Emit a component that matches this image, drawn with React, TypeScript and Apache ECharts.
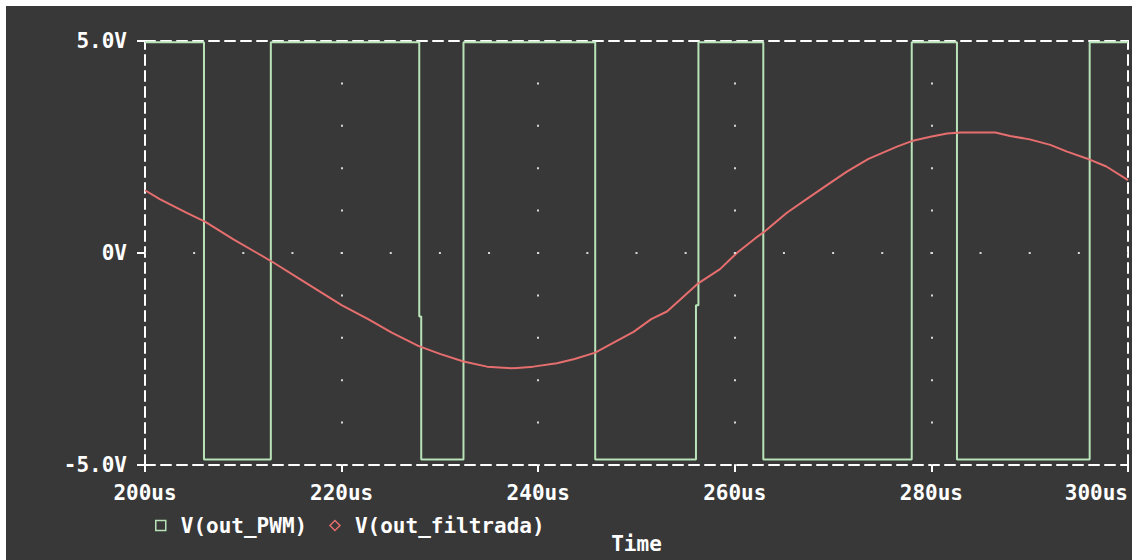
import React, { useEffect, useRef } from "react";
import * as echarts from "echarts";

const timeTicks = [200, 220, 240, 260, 280, 300];
const gridTimes = [220, 240, 260, 280];
const voltTicks = [-5, 0, 5];

const pwmTime = [200, 206.0, 206.0, 212.8, 212.8, 227.9, 227.9, 228.1, 228.1, 232.4, 232.4, 245.8, 245.8, 256.05, 256.05, 256.3, 256.3, 262.9, 262.9, 278.0, 278.0, 282.6, 282.6, 296.1, 296.1, 300];
const pwmVolt = [4.97, 4.97, -4.87, -4.87, 4.97, 4.97, -1.5, -1.5, -4.87, -4.87, 4.97, 4.97, -4.87, -4.87, -1.23, -1.23, 4.97, 4.97, -4.87, -4.87, 4.97, 4.97, -4.87, -4.87, 4.97, 4.97];

const filtTime = [200.0, 201.5, 204.2, 206.1, 209.0, 211.4, 213.1, 215.8, 218.0, 220.0, 222.7, 225.1, 227.8, 230.0, 232.4, 234.8, 237.3, 239.5, 241.9, 243.7, 245.8, 248.0, 249.7, 251.5, 253.1, 254.4, 256.2, 258.5, 260.2, 262.1, 263.0, 265.3, 267.3, 269.3, 271.4, 273.6, 276.5, 278.0, 279.9, 281.6, 283.0, 286.5, 288.0, 290.0, 292.1, 293.8, 295.8, 297.8, 300.0];
const filtVolt = [1.48, 1.27, 0.95, 0.74, 0.32, 0.0, -0.23, -0.62, -0.94, -1.23, -1.56, -1.88, -2.19, -2.38, -2.56, -2.68, -2.72, -2.68, -2.6, -2.5, -2.35, -2.07, -1.86, -1.56, -1.38, -1.11, -0.73, -0.38, 0.0, 0.35, 0.5, 0.95, 1.27, 1.59, 1.92, 2.22, 2.51, 2.64, 2.74, 2.82, 2.84, 2.84, 2.76, 2.68, 2.55, 2.39, 2.23, 2.04, 1.72];

const seriesNames = ["V(out_PWM)", "V(out_filtrada)"];

const BG = "#383838";
const GREEN = "#b8e2b8";
const RED = "#e66e6e";
const WHITE = "#ffffff";
const DOT = "#d8d8d8";
const FONT = "DejaVu Sans Mono";

export default function App() {
  const ref = useRef<HTMLDivElement>(null);
  useEffect(() => {
    if (!ref.current) return;
    const chart = echarts.init(ref.current, undefined, { renderer: "svg" });
    const textStyle = { color: WHITE, fontFamily: FONT, fontWeight: "bold" as const, fontSize: 21 };
    const dashed = { color: WHITE, width: 2, type: [10, 6] as any };
    chart.setOption({
      animation: false,
      backgroundColor: BG,
      grid: { left: 139, right: 4, top: 35, bottom: 95, outerBoundsMode: "none", containLabel: false },
      legend: {
        left: 144,
        top: 504,
        itemWidth: 10,
        itemHeight: 10,
        itemGap: 22,
        selectedMode: false,
        textStyle: { ...textStyle, padding: [0, 0, 0, 10] },
        data: [
          { name: seriesNames[0], icon: "rect", itemStyle: { color: "transparent", borderColor: GREEN, borderWidth: 1.5 } },
          { name: seriesNames[1], icon: "diamond", itemStyle: { color: "transparent", borderColor: RED, borderWidth: 1.5 } },
        ],
      },
      xAxis: [
        {
          type: "value",
          min: timeTicks[0],
          max: timeTicks[timeTicks.length - 1],
          interval: 20,
          position: "bottom",
          name: "Time",
          nameLocation: "middle",
          nameGap: 68,
          nameTextStyle: { ...textStyle, lineHeight: 22 },
          axisLine: { show: true, onZero: false, lineStyle: dashed },
          axisTick: { show: true, length: 7, lineStyle: { color: WHITE, width: 2 } },
          axisLabel: { ...textStyle, margin: 17, formatter: (v: number) => `${v}us`, alignMaxLabel: "right" },
          splitLine: { show: false },
        },
        {
          type: "value",
          min: timeTicks[0],
          max: timeTicks[timeTicks.length - 1],
          position: "top",
          axisLine: { show: true, onZero: false, lineStyle: dashed },
          axisTick: { show: false },
          axisLabel: { show: false },
          splitLine: { show: false },
        },
      ],
      yAxis: [
        {
          type: "value",
          min: voltTicks[0],
          max: voltTicks[voltTicks.length - 1],
          interval: 5,
          position: "left",
          axisLine: { show: true, onZero: false, lineStyle: dashed },
          axisTick: { show: true, length: 8, lineStyle: { color: WHITE, width: 2 } },
          axisLabel: { ...textStyle, margin: 18, formatter: (v: number) => (v === 0 ? "0V" : `${v.toFixed(1)}V`) },
          splitLine: { show: false },
        },
        {
          type: "value",
          min: voltTicks[0],
          max: voltTicks[voltTicks.length - 1],
          position: "right",
          axisLine: { show: true, onZero: false, lineStyle: dashed },
          axisTick: { show: false },
          axisLabel: { show: false },
          splitLine: { show: false },
        },
      ],
      series: [
        {
          name: seriesNames[0],
          type: "line",
          xAxisIndex: 0,
          yAxisIndex: 0,
          showSymbol: false,
          symbol: "none",
          z: 1,
          lineStyle: { color: GREEN, width: 2 },
          itemStyle: { color: GREEN },
          emphasis: { disabled: true },
          data: pwmTime.map((t, i) => [t, pwmVolt[i]]),
          markLine: {
            silent: true,
            symbol: ["none", "none"],
            label: { show: false },
            emphasis: { disabled: true },
            lineStyle: { color: DOT, width: 2, type: [2, 40.4], dashOffset: 1 },
            data: gridTimes.map((t) => ({ xAxis: t })),
          },
        },
        {
          name: seriesNames[1],
          type: "line",
          xAxisIndex: 0,
          yAxisIndex: 0,
          showSymbol: false,
          symbol: "none",
          z: 3,
          lineStyle: { color: RED, width: 2 },
          itemStyle: { color: RED },
          emphasis: { disabled: true },
          data: filtTime.map((t, i) => [t, filtVolt[i]]),
          markLine: {
            silent: true,
            symbol: ["none", "none"],
            label: { show: false },
            emphasis: { disabled: true },
            lineStyle: { color: DOT, width: 2, type: [2, 47.15], dashOffset: 1 },
            data: [[{ coord: [timeTicks[0], 0] }, { coord: [timeTicks[timeTicks.length - 1], 0] }]],
          },
        },
      ],
    });
    return () => chart.dispose();
  }, []);
  return (
    <div
      ref={ref}
      style={{ position: "fixed", left: 6, top: 6, width: 1126, height: 554, background: BG }}
    />
  );
}
